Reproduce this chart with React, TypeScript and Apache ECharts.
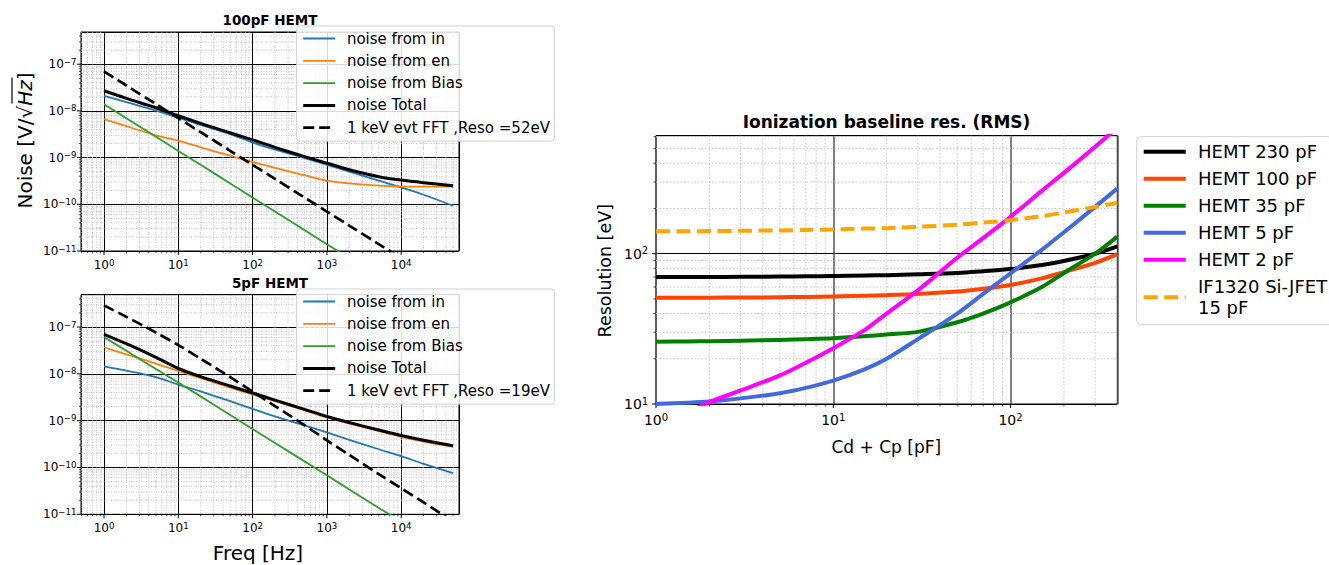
import React, { useEffect, useRef } from 'react';
import * as echarts from 'echarts';

const FONT = 'DejaVu Sans';

// ---------- Left panels: noise spectra ----------
const FREQ = [1, 2, 5, 10, 20, 50, 100, 200, 500, 1000, 2000, 5000, 10000, 20000, 50000];

// 100pF HEMT
const TOP_IN = [2.1e-8, 1.55e-8, 1.02e-8, 7.2e-9, 5.0e-9, 3.2e-9, 2.1e-9, 1.48e-9, 9.8e-10, 7.0e-10, 5.0e-10, 3.2e-10, 2.3e-10, 1.6e-10, 9.3e-11];
const TOP_EN = [6.7e-9, 4.7e-9, 3.0e-9, 2.3e-9, 1.66e-9, 1.1e-9, 8.1e-10, 6.0e-10, 4.2e-10, 3.2e-10, 2.8e-10, 2.5e-10, 2.4e-10, 2.4e-10, 2.4e-10];
const TOP_BIAS = [1.39e-8, 7.0e-9, 2.8e-9, 1.39e-9, 7.0e-10, 2.8e-10, 1.39e-10, 7.0e-11, 2.8e-11, 1.39e-11, 7.0e-12, null, null, null, null];
const TOP_TOTAL = [2.7e-8, 1.86e-8, 1.17e-8, 7.9e-9, 5.4e-9, 3.4e-9, 2.4e-9, 1.66e-9, 1.05e-9, 7.6e-10, 5.5e-10, 3.9e-10, 3.3e-10, 2.9e-10, 2.5e-10];
const TOP_FFT = [7.0e-8, 3.5e-8, 1.4e-8, 7.0e-9, 3.5e-9, 1.4e-9, 7.0e-10, 3.5e-10, 1.4e-10, 7.0e-11, 3.5e-11, 1.4e-11, 7.0e-12, null, null];

// 5pF HEMT
const BOT_IN = [1.45e-8, 1.17e-8, 8.5e-9, 5.9e-9, 4.2e-9, 2.6e-9, 1.78e-9, 1.23e-9, 7.9e-10, 5.6e-10, 3.9e-10, 2.45e-10, 1.74e-10, 1.2e-10, 7.6e-11];
const BOT_EN = [3.7e-8, 2.6e-8, 1.66e-8, 1.15e-8, 8.1e-9, 5.1e-9, 3.6e-9, 2.6e-9, 1.66e-9, 1.17e-9, 8.7e-10, 6.0e-10, 4.5e-10, 3.55e-10, 2.75e-10];
const BOT_BIAS = [6.1e-8, 3.1e-8, 1.27e-8, 6.5e-9, 3.3e-9, 1.32e-9, 6.6e-10, 3.35e-10, 1.35e-10, 6.8e-11, 3.4e-11, 1.37e-11, 7.0e-12, null, null];
const BOT_TOTAL = [7.0e-8, 4.4e-8, 2.25e-8, 1.3e-8, 8.7e-9, 5.5e-9, 3.9e-9, 2.75e-9, 1.74e-9, 1.23e-9, 9.1e-10, 6.3e-10, 4.8e-10, 3.8e-10, 2.9e-10];
const BOT_FFT = [2.9e-7, 1.65e-7, 7.6e-8, 4.1e-8, 2.1e-8, 8.5e-9, 4.2e-9, 2.05e-9, 8.0e-10, 3.8e-10, 1.85e-10, 7.2e-11, 3.6e-11, 1.8e-11, 7.0e-12];

const TOP_NAMES = ['noise from in', 'noise from en', 'noise from Bias', 'noise Total', '1 keV evt FFT ,Reso =52eV'];
const BOT_NAMES = ['noise from in', 'noise from en', 'noise from Bias', 'noise Total', '1 keV evt FFT ,Reso =19eV'];

// ---------- Right panel: ionization baseline resolution ----------
const CAP = [1, 1.5, 2, 3, 5, 7, 10, 15, 20, 30, 50, 70, 100, 150, 200, 300, 400];
const HEMT230 = [70, 70, 70, 70.2, 70.5, 70.8, 71, 71.6, 72, 73, 74.5, 76.5, 79, 84, 89.5, 100, 112];
const HEMT100 = [51, 51, 51, 51.1, 51.3, 51.6, 52, 52.5, 53, 54, 56, 58.5, 62, 68.5, 75.5, 87, 99.5];
const HEMT35 = [26, 26.1, 26.2, 26.4, 26.7, 27, 27.4, 28.2, 29, 30.2, 35, 40, 47.5, 60, 74.5, 100, 130];
const HEMT5 = [10, 10.2, 10.4, 10.9, 11.8, 12.8, 14.3, 17, 20, 27, 40, 54, 74, 106, 139, 205, 272];
const HEMT2 = [7.5, 8.8, 10.3, 12.3, 15.5, 18.8, 23.5, 31, 40, 57, 94, 127, 176, 262, 345, 515, 690];
const JFET15 = [141, 141.2, 141.5, 142, 143, 144, 145, 147, 148, 151, 156, 161, 167, 178, 188, 205, 218];
const RIGHT_NAMES = ['HEMT 230 pF', 'HEMT 100 pF', 'HEMT 35 pF', 'HEMT 5 pF', 'HEMT 2 pF', 'IF1320 Si-JFET\n15 pF'];

// axis ranges
const L_X = [0.49, 6e4];
const L_Y = [1e-11, 4.9e-7];
const R_X = [1, 400];
const R_Y = [10, 610];

function decadeLabel(v: number) {
  const l = Math.log10(v);
  const e = Math.round(l);
  if (Math.abs(l - e) > 1e-6) return '';
  return '{b|10}{s|' + String(e).replace('-', '\u2212') + '}';
}

function minorVals(r: number[]) {
  const out: number[] = [];
  const e0 = Math.floor(Math.log10(r[0])) - 1;
  const e1 = Math.ceil(Math.log10(r[1]));
  for (let e = e0; e <= e1; e++) {
    for (let m = 2; m <= 9; m++) {
      const v = m * Math.pow(10, e);
      if (v > r[0] * 1.0001 && v < r[1] * 0.9999) out.push(v);
    }
  }
  return out;
}
function majorVals(r: number[]) {
  const out: number[] = [];
  for (let e = Math.ceil(Math.log10(r[0]) - 1e-9); e <= Math.floor(Math.log10(r[1]) + 1e-9); e++) out.push(Math.pow(10, e));
  return out;
}

function lineSeries(name: string, xs: number[], ys: (number | null)[], color: string, width: number, dash: any, gi: number) {
  return {
    type: 'line',
    name,
    xAxisIndex: gi,
    yAxisIndex: gi,
    data: xs.map((x, i) => [x, ys[i]]).filter((p) => p[1] != null),
    showSymbol: false,
    symbol: 'none',
    smooth: 0.3,
    clip: true,
    z: 3,
    silent: true,
    lineStyle: { color, width, type: dash || 'solid', cap: 'butt', join: 'round' },
    itemStyle: { color },
    emphasis: { disabled: true },
  };
}

function decorSeries(gi: number, xr: number[], yr: number[], gridStyle: any, majLen: number, minLen: number) {
  const data: number[][] = [];
  minorVals(xr).forEach((v) => data.push([v, yr[0], 0]));
  minorVals(yr).forEach((v) => data.push([xr[0], v, 1]));
  majorVals(xr).forEach((v) => data.push([v, yr[0], 2]));
  majorVals(yr).forEach((v) => data.push([xr[0], v, 3]));
  return {
    type: 'custom',
    xAxisIndex: gi,
    yAxisIndex: gi,
    z: 1,
    silent: true,
    clip: false,
    dimensions: ['x', 'y', 'k'],
    encode: { x: 0, y: 1 },
    data,
    renderItem: (params: any, api: any) => {
      const cs = params.coordSys;
      const k = api.value(2);
      const p = api.coord([api.value(0), api.value(1)]);
      const children: any[] = [];
      const tick = { stroke: '#000', lineWidth: k >= 2 ? 1 : 0.7 };
      if (k === 0 || k === 2) {
        const x = p[0];
        if (k === 0) children.push({ type: 'line', shape: { x1: x, y1: cs.y, x2: x, y2: cs.y + cs.height }, style: gridStyle });
        const len = k === 2 ? majLen : minLen;
        children.push({ type: 'line', shape: { x1: x, y1: cs.y + cs.height, x2: x, y2: cs.y + cs.height + len }, style: tick });
      } else {
        const y = p[1];
        if (k === 1) children.push({ type: 'line', shape: { x1: cs.x, y1: y, x2: cs.x + cs.width, y2: y }, style: gridStyle });
        const len = k === 3 ? majLen : minLen;
        children.push({ type: 'line', shape: { x1: cs.x, y1: y, x2: cs.x - len, y2: y }, style: tick });
      }
      return { type: 'group', children };
    },
  };
}

function logAxis(gi: number, r: number[], fontSize: number, margin: number, split: any) {
  const sup = Math.round(fontSize * 0.72 * 10) / 10;
  return {
    type: 'log',
    logBase: 10,
    gridIndex: gi,
    min: r[0],
    max: r[1],
    axisLine: { show: false },
    axisTick: { show: false },
    minorTick: { show: false },
    minorSplitLine: { show: false },
    axisLabel: {
      formatter: decadeLabel,
      color: '#000',
      fontFamily: FONT,
      fontSize,
      margin,
      rich: {
        b: { fontSize, fontFamily: FONT, color: '#000' },
        s: { fontSize: sup, fontFamily: FONT, color: '#000', padding: [0, 0, Math.round(fontSize * 0.42), 0] },
      },
    },
    splitLine: { show: true, lineStyle: split },
  };
}

const leftLegendBase = {
  orient: 'vertical',
  left: 296.7,
  itemWidth: 32,
  itemHeight: 6,
  itemGap: 4.3,
  padding: [3.5, 4.4, 4.4, 5],
  selectedMode: false,
  borderColor: '#d0d0d0',
  borderWidth: 1,
  borderRadius: 3,
  backgroundColor: 'rgba(255,255,255,0.85)',
  itemStyle: { opacity: 0 },
  lineStyle: { width: 'inherit' },
  textStyle: { fontSize: 15, lineHeight: 18, color: '#000', fontFamily: FONT, padding: [0, 0, 0, 6.7] },
};

function textEl(text: string, x: number, y: number, fontSize: number, bold = false, rotate = false) {
  return {
    type: 'text',
    x,
    y,
    rotation: rotate ? Math.PI / 2 : 0,
    silent: true,
    style: {
      text,
      fontSize,
      fontWeight: bold ? 'bold' : 'normal',
      fontFamily: FONT,
      fill: '#000',
      align: 'center',
      verticalAlign: 'middle',
      textAlign: 'center',
      textVerticalAlign: 'middle',
    },
  };
}

const LEFT_GRID_STYLE = { stroke: '#b4b4b4', lineWidth: 0.8, lineDash: [1, 1.5] };
const RIGHT_GRID_STYLE = { stroke: '#c4c4c4', lineWidth: 1, lineDash: [1.5, 2] };

const option: any = {
  animation: false,
  textStyle: { fontFamily: FONT },
  grid: [
    { left: 81, top: 32, width: 378, height: 219, show: true, borderColor: '#000', borderWidth: 1, backgroundColor: 'transparent', outerBoundsMode: 'none' },
    { left: 81, top: 294.7, width: 378, height: 219.6, show: true, borderColor: '#000', borderWidth: 1, backgroundColor: 'transparent', outerBoundsMode: 'none' },
    { left: 656, top: 135.7, width: 461.3, height: 268.3, show: true, borderColor: '#000', borderWidth: 1, backgroundColor: 'transparent', outerBoundsMode: 'none' },
  ],
  xAxis: [
    logAxis(0, L_X, 12, 7, { color: '#000', width: 1 }),
    logAxis(1, L_X, 12, 7, { color: '#000', width: 1 }),
    logAxis(2, R_X, 14, 8, { color: '#555', width: 1.5 }),
  ],
  yAxis: [
    logAxis(0, L_Y, 12, 4.5, { color: '#000', width: 1 }),
    logAxis(1, L_Y, 12, 4.5, { color: '#000', width: 1 }),
    logAxis(2, R_Y, 14, 7.7, { color: '#000', width: 1 }),
  ],
  legend: [
    { ...leftLegendBase, top: 26, data: TOP_NAMES },
    { ...leftLegendBase, top: 289, data: BOT_NAMES },
    {
      orient: 'vertical',
      left: 1136.7,
      top: 136.7,
      itemWidth: 42,
      itemHeight: 8,
      itemGap: 6,
      padding: [4.5, 5, 6.5, 5],
      selectedMode: false,
      borderColor: '#d0d0d0',
      borderWidth: 1,
      borderRadius: 4,
      backgroundColor: 'rgba(255,255,255,0.85)',
      itemStyle: { opacity: 0 },
      lineStyle: { width: 'inherit' },
      textStyle: { fontSize: 18, lineHeight: 21, color: '#000', fontFamily: FONT, padding: [0, 0, 0, 7.3] },
      data: RIGHT_NAMES,
    },
  ],
  graphic: [
    textEl('100pF HEMT', 270, 20, 13.5, true),
    textEl('5pF HEMT', 270, 282.5, 13.5, true),
    textEl('Ionization baseline res. (RMS)', 886.5, 122.2, 17, true),
    textEl('Freq [Hz]', 258, 553, 20),
    textEl('Cd + Cp [pF]', 886.3, 447.3, 17),
    textEl('Resolution [eV]', 605, 270.7, 17.5, false, true),
    {
      type: 'group',
      x: 25,
      y: 140.5,
      rotation: Math.PI / 2,
      silent: true,
      children: [
        {
          type: 'text',
          x: 0,
          y: 0,
          style: {
            text: 'Noise [V/√{it|Hz}]',
            rich: { it: { fontStyle: 'italic', fontSize: 20, fontFamily: FONT, fill: '#000' } },
            fontSize: 20,
            fontFamily: FONT,
            fill: '#000',
            align: 'center',
            verticalAlign: 'middle',
            textAlign: 'center',
            textVerticalAlign: 'middle',
          },
        },
        { type: 'line', shape: { x1: 37, y1: -13, x2: 63, y2: -13 }, style: { stroke: '#000', lineWidth: 1.2 } },
      ],
    },
  ],
  series: [
    decorSeries(0, L_X, L_Y, LEFT_GRID_STYLE, 4, 2),
    decorSeries(1, L_X, L_Y, LEFT_GRID_STYLE, 4, 2),
    decorSeries(2, R_X, R_Y, RIGHT_GRID_STYLE, 4, 2.5),

    lineSeries(TOP_NAMES[0], FREQ, TOP_IN, '#1f77b4', 1.8, null, 0),
    lineSeries(TOP_NAMES[1], FREQ, TOP_EN, '#ff7f0e', 1.8, null, 0),
    lineSeries(TOP_NAMES[2], FREQ, TOP_BIAS, '#2ca02c', 1.8, null, 0),
    lineSeries(TOP_NAMES[3], FREQ, TOP_TOTAL, '#000000', 3, null, 0),
    lineSeries(TOP_NAMES[4], FREQ, TOP_FFT, '#000000', 2.7, [11, 5], 0),

    lineSeries(BOT_NAMES[0], FREQ, BOT_IN, '#1f77b4', 1.8, null, 1),
    lineSeries(BOT_NAMES[1], FREQ, BOT_EN, '#ff7f0e', 1.8, null, 1),
    lineSeries(BOT_NAMES[2], FREQ, BOT_BIAS, '#2ca02c', 1.8, null, 1),
    lineSeries(BOT_NAMES[3], FREQ, BOT_TOTAL, '#000000', 3, null, 1),
    lineSeries(BOT_NAMES[4], FREQ, BOT_FFT, '#000000', 2.7, [11, 5], 1),

    lineSeries(RIGHT_NAMES[0], CAP, HEMT230, '#000000', 4, null, 2),
    lineSeries(RIGHT_NAMES[1], CAP, HEMT100, '#ff4500', 4, null, 2),
    lineSeries(RIGHT_NAMES[2], CAP, HEMT35, '#008000', 4, null, 2),
    lineSeries(RIGHT_NAMES[3], CAP, HEMT5, '#4169e1', 4, null, 2),
    lineSeries(RIGHT_NAMES[4], CAP, HEMT2, '#ff00ff', 4, null, 2),
    lineSeries(RIGHT_NAMES[5], CAP, JFET15, '#ffa500', 4, [14, 6.5], 2),
  ],
};

export default function App() {
  const ref = useRef<HTMLDivElement>(null);
  useEffect(() => {
    if (!ref.current) return;
    const chart = echarts.init(ref.current, undefined, { renderer: 'svg' });
    chart.setOption(option);
    return () => chart.dispose();
  }, []);
  return (
    <div
      ref={ref}
      style={{ position: 'absolute', left: 0, top: 0, width: 1329, height: 565, background: '#fff' }}
    />
  );
}
